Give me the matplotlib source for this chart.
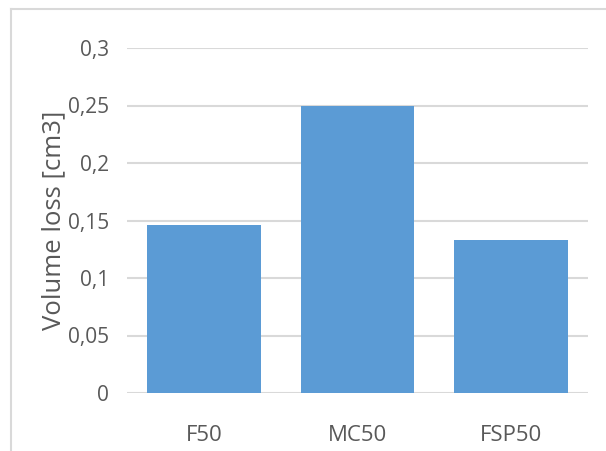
import matplotlib.pyplot as plt
from matplotlib.lines import Line2D
import numpy as np

plt.rcParams['font.family'] = ['Open Sans', 'DejaVu Sans']

# data
categories = ['F50', 'MC50', 'FSP50']
volume_loss = [0.146, 0.25, 0.133]
y_ticks = [0, 0.05, 0.1, 0.15, 0.2, 0.25, 0.3]
y_tick_labels = ['0', '0,05', '0,1', '0,15', '0,2', '0,25', '0,3']

W, H = 606, 451
fig = plt.figure(figsize=(W / 100, H / 100), dpi=100)
ax = fig.add_axes([127 / W, (H - 393) / H, (588 - 127) / W, (393 - 48) / H])

text_color = '#595959'
grid_color = '#D9D9D9'

x = np.arange(len(categories))
ax.bar(x, volume_loss, width=0.74, color='#5B9BD5', zorder=3)

ax.set_xlim(-0.5, len(categories) - 0.5)
ax.set_ylim(0, 0.3)
ax.set_yticks(y_ticks)
ax.set_yticklabels(y_tick_labels, fontsize=15, color=text_color)
ax.set_xticks(x)
ax.set_xticklabels(categories, fontsize=16, color=text_color)
ax.tick_params(axis='y', length=0, pad=13)
ax.tick_params(axis='x', length=0, pad=23)

for s in ax.spines.values():
    s.set_visible(False)
ax.grid(axis='y', color=grid_color, linewidth=1.5, zorder=0)
ax.set_axisbelow(True)

ax.set_ylabel('Volume loss [cm3]', fontsize=18.5, color=text_color, labelpad=1)

# outer chart frame (top and left edges)
fig.add_artist(Line2D([11 / W, 1], [(H - 9) / H, (H - 9) / H], color=grid_color, linewidth=1.5))
fig.add_artist(Line2D([11 / W, 11 / W], [0, (H - 9) / H], color=grid_color, linewidth=1.5))

fig.savefig('out.png', dpi=100)
